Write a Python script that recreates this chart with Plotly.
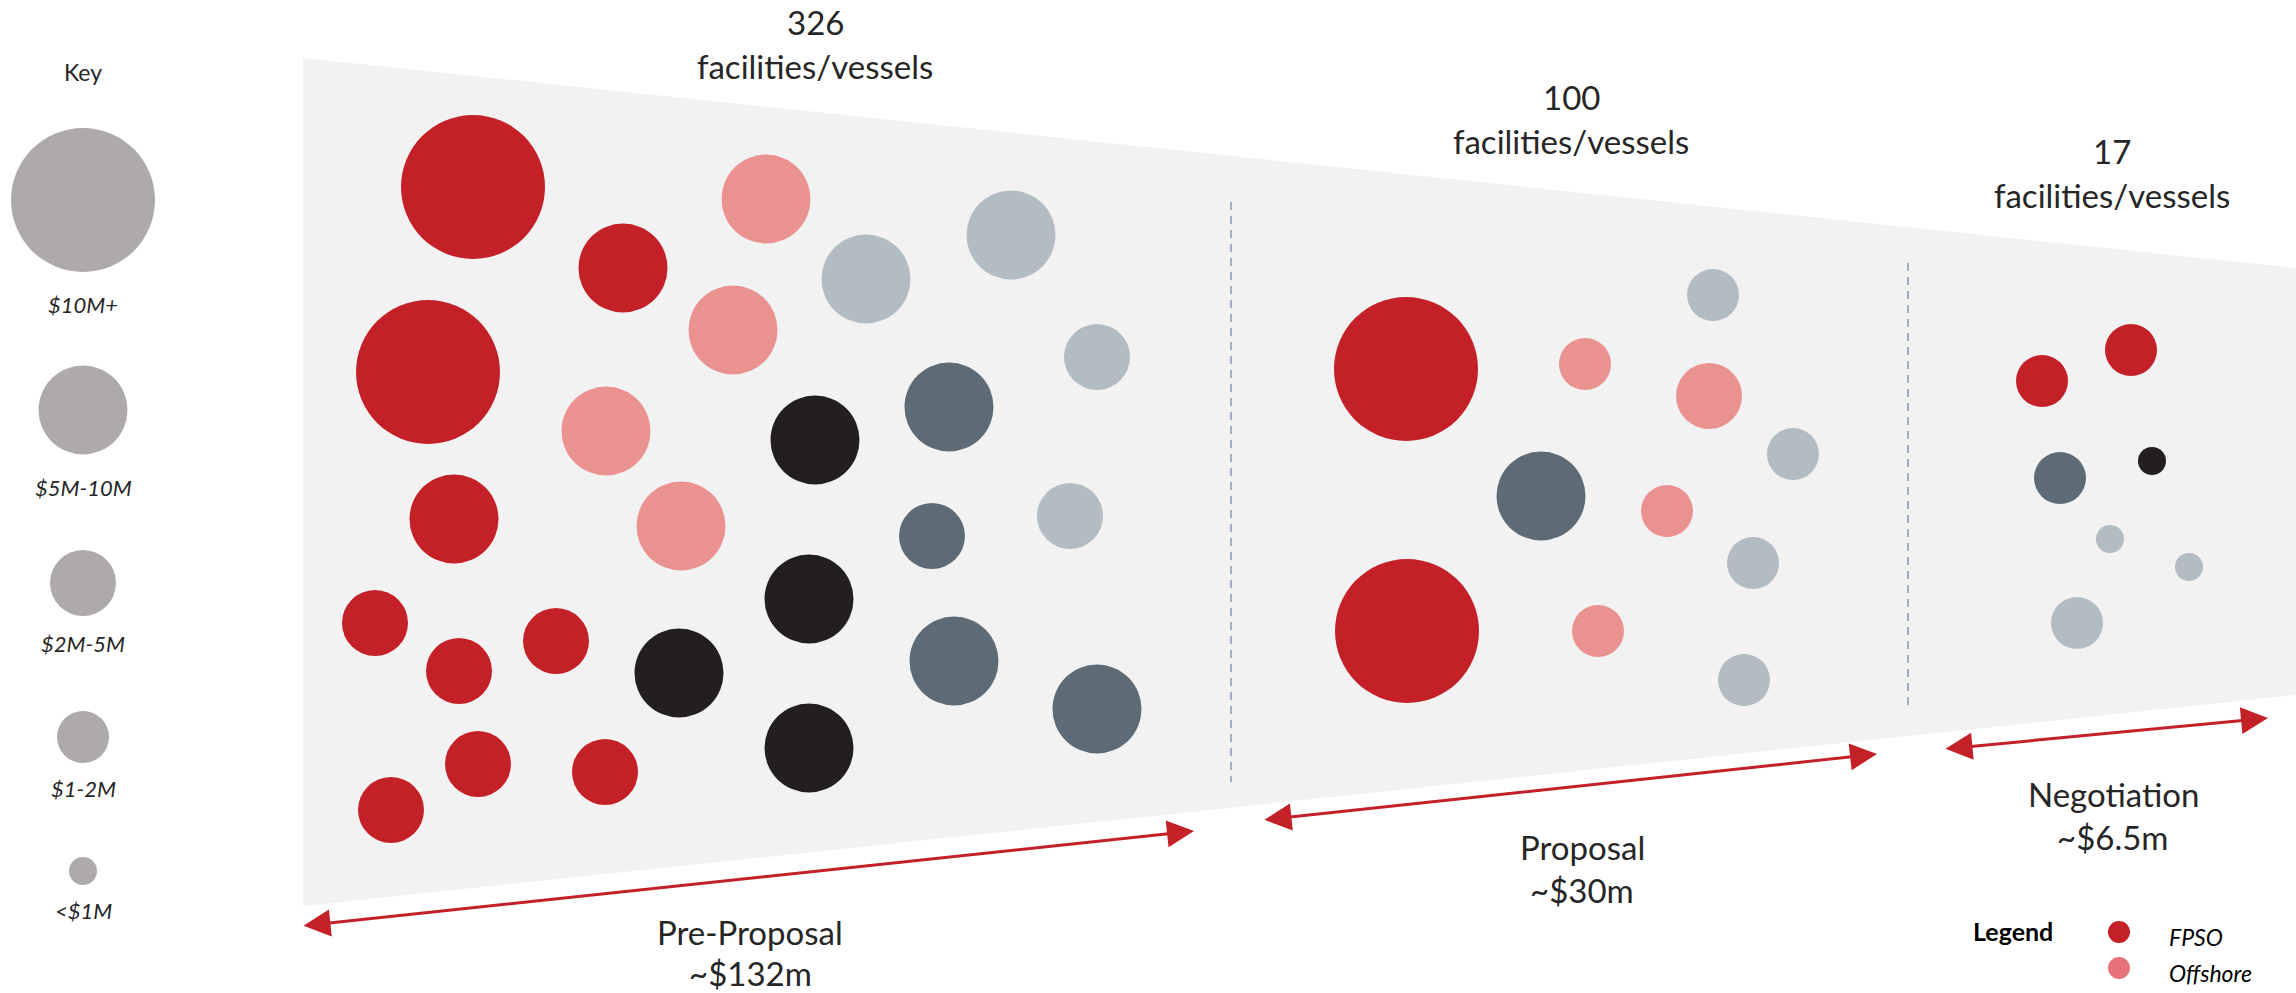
import plotly.graph_objects as go

W, H = 2296, 993

# ---- size tiers (key) ----
tier_labels = ["$10M+", "$5M-10M", "$2M-5M", "$1-2M", "<$1M"]
tier_diam = [144, 89, 66, 52, 28]

# ---- category colours ----
cat_names = ["FPSO", "Offshore", "Cat C", "Cat D", "Cat E"]
cat_colors = ["#C42027", "#EA9290", "#B2BCC3", "#5D6B76", "#231F20"]

# ---- facilities: x, y (px), tier index ----
fpso_x = [473, 428, 623, 454, 375, 459, 556, 478, 605, 391, 1406, 1407, 2042, 2131]
fpso_y = [187, 372, 268, 519, 623, 671, 641, 764, 772, 810, 369, 631, 381, 350]
fpso_t = [0, 0, 1, 1, 2, 2, 2, 2, 2, 2, 0, 0, 3, 3]

off_x = [766, 733, 606, 681, 1585, 1667, 1598, 1709]
off_y = [199, 330, 431, 526, 364, 511, 631, 396]
off_t = [1, 1, 1, 1, 3, 3, 3, 2]

catc_x = [866, 1011, 1097, 1070, 1713, 1793, 1753, 1744, 2110, 2189, 2077]
catc_y = [279, 235, 357, 516, 295, 454, 563, 680, 539, 567, 623]
catc_t = [1, 1, 2, 2, 3, 3, 3, 3, 4, 4, 3]

catd_x = [949, 954, 1097, 932, 1541, 2060]
catd_y = [407, 661, 709, 536, 496, 478]
catd_t = [1, 1, 1, 2, 1, 3]

cate_x = [815, 809, 809, 679, 2152]
cate_y = [440, 599, 748, 673, 461]
cate_t = [1, 1, 1, 1, 4]

# ---- stages ----
stage_counts = ["326", "100", "17"]
stage_count_x = [815, 1571, 2112]
stage_count_y = [22, 97, 151]
stage_names = ["Pre-Proposal", "Proposal", "Negotiation"]
stage_values = ["~$132m", "~$30m", "~$6.5m"]
stage_name_x = [750, 1582, 2113]
stage_name_y = [932, 847, 794]

arrow_start = [(302, 926), (1263, 820), (1944, 749)]
arrow_end = [(1194, 831), (1877, 754), (2268, 718)]

funnel_x = [303, 2296, 2296, 303]
funnel_y = [58, 268, 695, 906]

divider_x = [1231, 1908]
divider_y0 = [202, 263]
divider_y1 = [782, 707]

key_y = [200, 410, 583, 737, 871]
key_label_y = [304, 487, 643, 788, 910]

legend_names = ["FPSO", "Offshore"]
legend_colors = ["#C42027", "#E8727A", "#5D6B76"]
legend_y = [932, 968, 1004]

FONT = "Lato"
TXT = "#262626"

fig = go.Figure()

# funnel background
fig.add_trace(go.Scatter(x=funnel_x + [funnel_x[0]], y=funnel_y + [funnel_y[0]],
                         fill="toself", fillcolor="#F2F2F2", mode="lines",
                         line=dict(width=0), hoverinfo="skip", showlegend=False))

# facilities
groups = [(fpso_x, fpso_y, fpso_t), (off_x, off_y, off_t), (catc_x, catc_y, catc_t),
          (catd_x, catd_y, catd_t), (cate_x, cate_y, cate_t)]
for (gx, gy, gt), name, col in zip(groups, cat_names, cat_colors):
    fig.add_trace(go.Scatter(x=gx, y=gy, mode="markers", name=name,
                             marker=dict(size=[tier_diam[t] for t in gt], color=col,
                                         opacity=1, line=dict(width=0)),
                             showlegend=False))

# key circles
fig.add_trace(go.Scatter(x=[83] * len(key_y), y=key_y, mode="markers",
                         marker=dict(size=tier_diam, color="#AEAAAA", opacity=1,
                                     line=dict(width=0)),
                         showlegend=False, hoverinfo="skip"))

# legend circles
fig.add_trace(go.Scatter(x=[2119] * len(legend_y), y=legend_y, mode="markers",
                         marker=dict(size=22, color=legend_colors, opacity=1, line=dict(width=0)),
                         showlegend=False, hoverinfo="skip"))

# dividers
for dx, y0, y1 in zip(divider_x, divider_y0, divider_y1):
    fig.add_shape(type="line", x0=dx, x1=dx, y0=y0, y1=y1, xref="x", yref="y",
                  line=dict(color="#9FAEC2", width=2, dash="8px,6px"))

ann = []
# stage headings
for t, x, y in zip(stage_counts, stage_count_x, stage_count_y):
    ann.append(dict(x=x, y=y, text=t, showarrow=False, font=dict(family=FONT, size=33, color=TXT)))
    ann.append(dict(x=x, y=y + 44, text="facilities/vessels", showarrow=False,
                    font=dict(family=FONT, size=33, color=TXT)))
# stage names / values
for n, v, x, y in zip(stage_names, stage_values, stage_name_x, stage_name_y):
    ann.append(dict(x=x, y=y, text=n, showarrow=False, font=dict(family=FONT, size=33, color=TXT)))
    ann.append(dict(x=x, y=min(y + 43, H - 20), yanchor="middle", text=v, showarrow=False,
                    font=dict(family=FONT, size=33, color=TXT)))
# arrows
for (sx, sy), (ex, ey) in zip(arrow_start, arrow_end):
    ann.append(dict(x=ex, y=ey, ax=sx, ay=sy, xref="x", yref="y", axref="x", ayref="y",
                    text="", showarrow=True, arrowside="end+start", arrowhead=2,
                    startarrowhead=2, arrowsize=1.8, startarrowsize=1.8, arrowwidth=3,
                    arrowcolor="#C42027", standoff=0, startstandoff=0))
# key
ann.append(dict(x=83, y=72, text="Key", showarrow=False, font=dict(family=FONT, size=23, color=TXT)))
for lab, y in zip(tier_labels, key_label_y):
    ann.append(dict(x=83, y=y, text="<i>" + lab.replace("<", "&lt;") + "</i>", showarrow=False,
                    font=dict(family=FONT, size=22, color=TXT)))
# legend
ann.append(dict(x=2013, y=931, text="<b>Legend</b>", showarrow=False,
                font=dict(family=FONT, size=25, color="#000000")))
for lab, y in zip(legend_names, legend_y):
    ann.append(dict(x=2167, y=y + 5, text="<i>" + lab + "</i>", showarrow=False, xanchor="left",
                    font=dict(family=FONT, size=23, color="#000000")))

fig.update_layout(width=W, height=H, margin=dict(l=0, r=0, t=0, b=0),
                  paper_bgcolor="white", plot_bgcolor="white", annotations=ann,
                  xaxis=dict(range=[0, W], visible=False, fixedrange=True),
                  yaxis=dict(range=[H, 0], visible=False, fixedrange=True),
                  showlegend=False)

fig.write_html("out.html", config={"displayModeBar": False})
